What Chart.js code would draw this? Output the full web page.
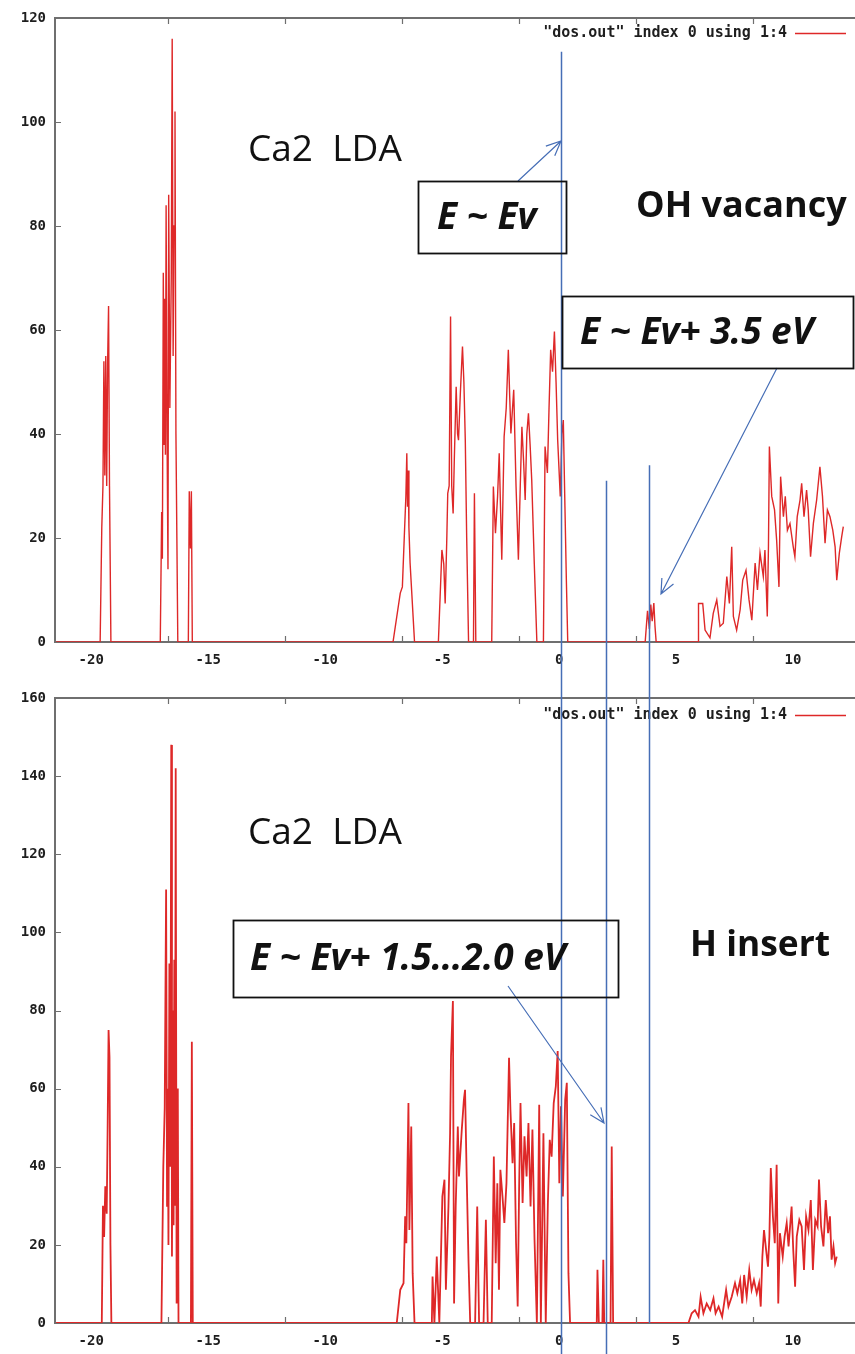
<!DOCTYPE html>
<html>
<head>
<meta charset="utf-8">
<script src="https://cdn.jsdelivr.net/npm/chart.js@4.4.1/dist/chart.umd.min.js"></script>
<style>
  html, body { margin: 0; padding: 0; background: #fff; overflow: hidden; }
  #wrap { position: relative; width: 855px; height: 1354px; }
  canvas { position: absolute; left: 0; }
</style>
</head>
<body>
<div id="wrap">
  <canvas id="topChart" width="855" height="680" style="top:0"></canvas>
  <canvas id="botChart" width="855" height="674" style="top:680px"></canvas>
  <canvas id="overlay" width="855" height="1354" style="top:0;pointer-events:none"></canvas>
</div>
<script>
var xTicks = [-20, -15, -10, -5, 0, 5, 10];
var xMinorTicks = [-16.7, -11.7, -6.7, -1.7, 3.3, 8.3];
var topYTicks = [0, 20, 40, 60, 80, 100, 120];
var botYTicks = [0, 20, 40, 60, 80, 100, 120, 140, 160];
var legendText = '"dos.out" index 0 using 1:4';

// OH vacancy DOS
var topEnergy = [
  -21.5,
  -19.62, -19.55, -19.50, -19.46, -19.42, -19.38, -19.34, -19.30, -19.26, -19.22, -19.16,
  -17.05, -16.99, -16.96, -16.92, -16.89, -16.86, -16.83, -16.80, -16.76, -16.72,
  -16.69, -16.64, -16.58, -16.54, -16.50, -16.46, -16.42, -16.38, -16.34, -16.30,
  -15.85, -15.81, -15.76, -15.72, -15.68,
  -7.10, -6.79, -6.70, -6.62, -6.55, -6.51, -6.48, -6.45, -6.42, -6.37, -6.18,
  -5.16, -5.01, -4.93, -4.87, -4.80, -4.76, -4.70, -4.64, -4.59, -4.53,
  -4.48, -4.40, -4.34, -4.30, -4.22, -4.13, -4.07, -4.01, -3.95, -3.87,
  -3.66, -3.62, -3.56,
  -2.88, -2.81, -2.72, -2.63, -2.56, -2.45, -2.35, -2.26, -2.17, -2.11, -2.06, -1.94,
  -1.84, -1.74, -1.66, -1.59, -1.52, -1.45, -1.38, -1.31, -1.24, -1.17, -1.06, -0.95,
  -0.67, -0.60, -0.50, -0.43, -0.36, -0.28, -0.20, -0.13, -0.06, 0.05, 0.12, 0.18, 0.25, 0.31, 0.37,
  3.68, 3.78, 3.86, 3.92, 3.98, 4.05, 4.10, 4.15,
  5.95, 5.96, 6.14, 6.24, 6.45, 6.59, 6.74, 6.88, 7.02, 7.17,
  7.28, 7.38, 7.45, 7.59, 7.74, 7.85, 7.99, 8.12, 8.24, 8.38,
  8.48, 8.59, 8.73, 8.80, 8.90, 8.95, 8.99, 9.09, 9.21, 9.30,
  9.40, 9.47, 9.59, 9.67, 9.76, 9.87, 10.01, 10.08, 10.18, 10.30,
  10.37, 10.47, 10.58, 10.65, 10.75, 10.87, 11.01, 11.15, 11.26, 11.37,
  11.47, 11.58, 11.70, 11.80, 11.87, 11.98, 12.08, 12.15
];
var topDos = [
  0,
  0, 22, 30, 54, 32, 55, 30, 54, 64.6, 30, 0,
  0, 25, 16, 71, 38, 66, 36, 84, 40, 14,
  86, 45, 70, 116, 55, 80, 102, 40, 20, 0,
  0, 29, 18, 29, 0,
  0, 9.4, 10.6, 20, 28, 36.3, 26, 33, 22, 15.2, 0,
  0, 17.7, 15, 7.4, 20, 28.6, 30, 62.6, 30, 24.7,
  35, 49.1, 40, 38.8, 48, 56.8, 50, 38.8, 20, 0,
  0, 28.6, 0,
  0, 29.9, 20.9, 28, 36.3, 15.8, 39.5, 45, 56.2, 47, 40.1, 48.5,
  29.9, 15.8, 30, 41.4, 35, 27.3, 40, 44, 38, 31.2, 15, 0,
  0, 37.6, 32.5, 45, 56.2, 52, 59.7, 50, 38.8, 28, 40, 42.7, 26, 12, 0,
  0, 6, 2.5, 7.2, 4, 7.5, 3, 0,
  0, 7.4, 7.4, 2.3, 0.8, 5.5, 8.1, 3, 3.6, 12.6,
  7.4, 18.3, 4.9, 2.3, 6.2, 11.9, 13.8, 8.1, 4.2, 15.2,
  10, 17.1, 12.6, 17.7, 4.9, 18.3, 37.6, 28, 25.4, 19.6,
  10.6, 31.8, 24.1, 28, 21.5, 22.8, 18.3, 16.4, 24.1, 27.3,
  30.5, 24.1, 29.2, 25.4, 16.4, 22.8, 27.3, 33.7, 28, 19,
  25.4, 24.1, 21.5, 18.3, 11.9, 17.1, 20.2, 22.2
];

// H insert DOS
var botEnergy = [
  -21.5,
  -19.55, -19.50, -19.45, -19.40, -19.34, -19.30, -19.26, -19.22, -19.18, -19.14,
  -17.00, -16.96, -16.92, -16.86, -16.80, -16.76, -16.73, -16.70, -16.66, -16.62,
  -16.58, -16.55, -16.51, -16.48, -16.45, -16.42, -16.39, -16.35, -16.30, -16.27,
  -15.74, -15.70, -15.66,
  -6.94, -6.79, -6.65, -6.58, -6.53, -6.44, -6.40, -6.32, -6.26, -6.18,
  -5.44, -5.41, -5.33, -5.23, -5.12, -4.99, -4.90, -4.84, -4.73, -4.66,
  -4.62, -4.54, -4.49, -4.42, -4.33, -4.28, -4.16, -4.07, -4.02, -3.95, -3.87, -3.80,
  -3.59, -3.50, -3.42, -3.23, -3.13, -3.05,
  -2.88, -2.79, -2.71, -2.64, -2.57, -2.51, -2.42, -2.34, -2.25, -2.14,
  -2.08, -1.99, -1.92, -1.84, -1.77, -1.71, -1.65, -1.56, -1.48, -1.39,
  -1.31, -1.22, -1.14, -1.05, -0.95, -0.85, -0.78, -0.67, -0.57, -0.48,
  -0.40, -0.32, -0.23, -0.14, -0.06, 0.01, 0.08, 0.16, 0.26, 0.33, 0.40, 0.47,
  1.61, 1.64, 1.70, 1.85, 1.89, 1.93, 2.20, 2.25, 2.31,
  5.53, 5.67, 5.81, 5.96, 6.05, 6.17, 6.31, 6.46, 6.60, 6.69,
  6.82, 6.97, 7.14, 7.24, 7.38, 7.52, 7.62, 7.74, 7.83, 7.91,
  8.02, 8.13, 8.23, 8.33, 8.45, 8.55, 8.62, 8.69, 8.76, 8.85,
  8.93, 8.99, 9.05, 9.14, 9.22, 9.30, 9.37, 9.44, 9.56, 9.64,
  9.73, 9.81, 9.94, 10.01, 10.09, 10.16, 10.27, 10.37, 10.47, 10.56,
  10.66, 10.76, 10.85, 10.95, 11.05, 11.11, 11.20, 11.30, 11.40, 11.50,
  11.58, 11.65, 11.73, 11.80, 11.87
];
var botDos = [
  0,
  0, 30, 22, 35, 28, 50, 75, 68, 20, 0,
  0, 20, 40, 55, 111, 30, 60, 20, 92, 40,
  148, 17, 80, 25, 93, 30, 142, 5, 60, 0,
  0, 72, 0,
  0, 8.5, 10.2, 27.3, 20.4, 56.3, 23.8, 50.3, 12.7, 0,
  0, 11.9, 0, 17, 0, 32.4, 36.7, 8.5, 29.8, 48.6,
  68.3, 82.4, 5, 29.8, 50.3, 37.5, 49.5, 57.2, 59.7, 37.5, 15.3, 0,
  0, 29.8, 0, 0, 26.4, 0,
  0, 42.6, 15.3, 35.8, 8.5, 39.2, 32.4, 25.6, 35.8, 67.9,
  54.6, 40.9, 51.2, 20.4, 4.2, 34.1, 56.3, 30.7, 47.8, 37.5,
  51.2, 29.8, 49.5, 21.3, 0, 55.9, 0, 48.6, 0, 30.7,
  46.9, 42.6, 56.3, 60.6, 69.6, 35.8, 55.5, 32.4, 57.2, 61.5, 12.7, 0,
  0, 13.6, 0, 0, 16.2, 0, 0, 45.2, 0,
  0, 2.5, 3.3, 1.6, 6.7, 2.5, 5.0, 3.3, 6.3, 2.5,
  4.2, 1.6, 8.5, 4.2, 6.7, 10.2, 7.6, 11, 5, 12.3,
  6.7, 13.6, 8.5, 11, 7.6, 10.2, 4.2, 17, 23.8, 18.7,
  14.4, 22.1, 39.7, 27.3, 20.4, 40.5, 5, 23, 17, 22.1,
  25.6, 19.6, 29.8, 18.7, 9.3, 22.1, 26.4, 24.7, 13.6, 27.3,
  23.8, 31.5, 13.6, 26.4, 24.7, 36.7, 24.7, 19.6, 31.5, 23,
  27.3, 16.2, 19.6, 15.3, 17
];

// blue guide lines (eV), where they start in the upper panel, and whether they run to the page bottom
var guideE = [0.1, 2.0, 3.85];
var guideTop = [113.5, 31, 34];
var guideToEdge = [true, true, false];

if (topEnergy.length != topDos.length || botEnergy.length != botDos.length) {
  console.error('length mismatch', topEnergy.length, topDos.length, botEnergy.length, botDos.length);
}

var lineRed = 'rgb(222,40,40)';
var axisGrey = '#6f6f6f';
var tickFont = { family: 'DejaVu Sans Mono', size: 14, weight: 'bold' };

function pairs(xs, ys) {
  return xs.map(function(x, i) { return { x: x, y: ys[i] }; });
}

// top border plus small inward ticks like gnuplot
var framePlugin = {
  id: 'frame',
  afterDraw: function(chart) {
    var c = chart.ctx, a = chart.chartArea;
    var sx = chart.scales.x, sy = chart.scales.y;
    c.save();
    c.strokeStyle = axisGrey;
    c.lineWidth = 2;
    c.beginPath();
    c.moveTo(a.left, a.top);
    c.lineTo(a.right, a.top);
    c.stroke();
    c.lineWidth = 1.2;
    c.beginPath();
    sy.ticks.forEach(function(t) {
      var y = Math.round(sy.getPixelForValue(t.value)) + 0.5;
      c.moveTo(a.left, y);
      c.lineTo(a.left + 6, y);
    });
    xMinorTicks.forEach(function(v) {
      var x = Math.round(sx.getPixelForValue(v)) + 0.5;
      c.moveTo(x, a.bottom);
      c.lineTo(x, a.bottom - 6);
      c.moveTo(x, a.top);
      c.lineTo(x, a.top + 6);
    });
    c.stroke();
    c.restore();
  }
};

function makeChart(id, xs, ys, yTicks, ymax, xAxisH, lw) {
  return new Chart(document.getElementById(id), {
    type: 'line',
    data: {
      datasets: [{
        data: pairs(xs, ys),
        borderColor: lineRed,
        borderWidth: lw,
        pointRadius: 0,
        tension: 0,
        fill: false
      }]
    },
    options: {
      responsive: false,
      animation: false,
      layout: { padding: { top: 18, left: 0, right: 0, bottom: 0 } },
      plugins: { legend: { display: false }, tooltip: { enabled: false } },
      scales: {
        x: {
          type: 'linear',
          min: -21.55,
          max: 12.65,
          afterBuildTicks: function(s) { s.ticks = xTicks.map(function(v) { return { value: v }; }); },
          afterFit: function(s) { s.height = xAxisH; },
          ticks: { font: tickFont, color: '#1e1e1e', padding: 10, maxRotation: 0,
                   callback: function(v) { return String(v); } },
          grid: { drawOnChartArea: false, drawTicks: false },
          border: { color: axisGrey, width: 2 }
        },
        y: {
          min: 0,
          max: ymax,
          afterBuildTicks: function(s) { s.ticks = yTicks.map(function(v) { return { value: v }; }); },
          afterFit: function(s) { s.width = 55; },
          ticks: { font: tickFont, color: '#1e1e1e', padding: 9,
                   callback: function(v) { return String(v); } },
          grid: { drawOnChartArea: false, drawTicks: false },
          border: { color: axisGrey, width: 2 }
        }
      }
    },
    plugins: [framePlugin]
  });
}

var topChart = makeChart('topChart', topEnergy, topDos, topYTicks, 120, 38, 1.4);
var botChart = makeChart('botChart', botEnergy, botDos, botYTicks, 160, 31, 1.8);
var botOffset = 680;

// annotations on a shared overlay
var ov = document.getElementById('overlay').getContext('2d');

function arrow(x0, y0, x1, y1) {
  var ang = Math.atan2(y1 - y0, x1 - x0), L = 16, spread = 0.42;
  ov.beginPath();
  ov.moveTo(x0, y0);
  ov.lineTo(x1, y1);
  ov.moveTo(x1 - L * Math.cos(ang - spread), y1 - L * Math.sin(ang - spread));
  ov.lineTo(x1, y1);
  ov.lineTo(x1 - L * Math.cos(ang + spread), y1 - L * Math.sin(ang + spread));
  ov.stroke();
}

function box(x, y, w, h) {
  ov.save();
  ov.strokeStyle = '#111';
  ov.lineWidth = 1.8;
  ov.strokeRect(x + 0.5, y + 0.5, w, h);
  ov.restore();
}

function text(str, x, y, font, maxW) {
  ov.save();
  ov.font = font;
  ov.fillStyle = '#111';
  ov.textBaseline = 'middle';
  ov.fillText(str, x, y, maxW);
  ov.restore();
}

// legends
[[33, 0], [715, 0]].forEach(function(p) {
  ov.save();
  ov.font = 'bold 15px "DejaVu Sans Mono"';
  ov.fillStyle = '#1e1e1e';
  ov.textAlign = 'right';
  ov.textBaseline = 'middle';
  ov.fillText(legendText, 787, p[0], 272);
  ov.strokeStyle = lineRed;
  ov.lineWidth = 1.3;
  ov.beginPath();
  ov.moveTo(795, p[0] + 0.5);
  ov.lineTo(846, p[0] + 0.5);
  ov.stroke();
  ov.restore();
});

// blue guide lines
ov.strokeStyle = 'rgb(70,110,182)';
ov.lineWidth = 1.5;
guideE.forEach(function(e, i) {
  var px = Math.round(topChart.scales.x.getPixelForValue(e)) + 0.5;
  var y0 = topChart.scales.y.getPixelForValue(guideTop[i]);
  var y1 = guideToEdge[i] ? 1354 : botOffset + botChart.scales.y.getPixelForValue(0);
  ov.beginPath();
  ov.moveTo(px, y0);
  ov.lineTo(px, y1);
  ov.stroke();
});

ov.lineWidth = 1.2;
arrow(518, 181, 561, 141);
arrow(777, 368, 661, 594);
arrow(508, 986, 604, 1123);

// boxes and labels
box(418, 181, 148, 72);
box(562, 296, 291, 72);
box(233, 920, 385, 77);

var bi = 'italic bold 37px "Open Sans", "Liberation Sans", sans-serif';
text('E ~ Ev', 437, 218, bi, 106);
text('E ~ Ev+ 3.5 eV', 580, 333, bi, 262);
text('E ~ Ev+ 1.5\u20262.0 eV', 250, 959, bi, 352);

var plain = '37px "Open Sans", "Liberation Sans", sans-serif';
var bold = 'bold 36px "Open Sans", "Liberation Sans", sans-serif';
text('Ca2  LDA', 248, 150, plain, 162);
text('Ca2  LDA', 248, 833, plain, 162);
text('OH vacancy', 636, 207, bold, 218);
text('H insert', 690, 946, bold, 140);
</script>
</body>
</html>
